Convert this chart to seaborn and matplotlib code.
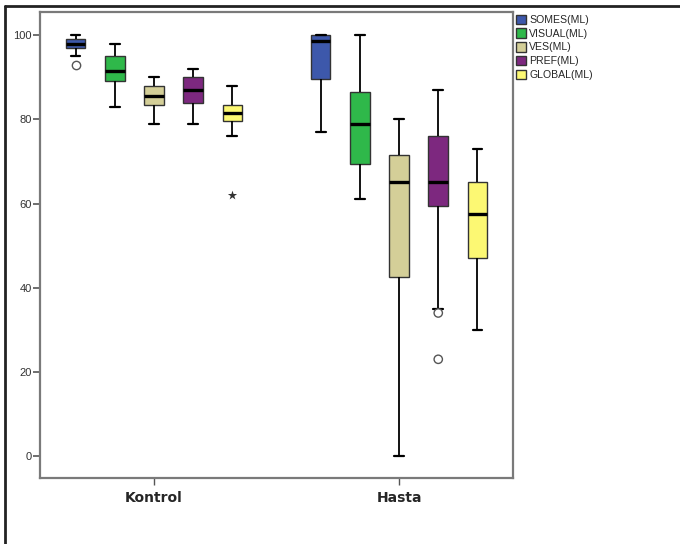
import pandas as pd
import numpy as np
import matplotlib
matplotlib.use("Agg")
import matplotlib.pyplot as plt
from matplotlib.lines import Line2D
import seaborn as sns

groups = ["Kontrol", "Hasta"]
tests = ["SOMES(ML)", "VISUAL(ML)", "VES(ML)", "PREF(ML)", "GLOBAL(ML)"]
colors = ["#3d58ab", "#2fb84a", "#d4cf98", "#7d287f", "#fcf873"]

# five-number summaries: whisker low, Q1, median, Q3, whisker high
kontrol_stats = [
    [95, 97, 98, 99, 100],
    [83, 89, 91.5, 95, 98],
    [79, 83.5, 85.5, 88, 90],
    [79, 84, 87, 90, 92],
    [76, 79.5, 81.5, 83.5, 88],
]
hasta_stats = [
    [77, 89.5, 98.5, 100, 100],
    [61, 69.5, 79, 86.5, 100],
    [0, 42.5, 65, 71.5, 80],
    [35, 59.5, 65, 76, 87],
    [30, 47, 57.5, 65, 73],
]

# outliers (circles) and extreme values (stars)
outlier_group = ["Kontrol", "Hasta", "Hasta"]
outlier_test = ["SOMES(ML)", "PREF(ML)", "PREF(ML)"]
outlier_value = [93, 34, 23]
extreme_group = ["Kontrol"]
extreme_test = ["GLOBAL(ML)"]
extreme_value = [62]

rows = []
for grp, stats in zip(groups, [kontrol_stats, hasta_stats]):
    for test, five in zip(tests, stats):
        for v in five:
            rows.append((grp, test, v))
df = pd.DataFrame(rows, columns=["group", "test", "value"])
out_df = pd.DataFrame({"group": outlier_group, "test": outlier_test, "value": outlier_value})
ext_df = pd.DataFrame({"group": extreme_group, "test": extreme_test, "value": extreme_value})

sns.set_style("white")
plt.rcParams["font.family"] = ["Liberation Sans", "DejaVu Sans"]

fig = plt.figure(figsize=(6.8, 5.44), dpi=100)
ax = fig.add_axes([40 / 680, 1 - 478 / 544, 473 / 680, 466 / 544])

sns.boxplot(data=df, x="group", y="value", hue="test", order=groups,
            hue_order=tests, palette=colors, saturation=1, width=0.8, gap=0.5,
            whis=(0, 100), showfliers=False, linecolor="#333333", linewidth=1,
            medianprops={"color": "black", "linewidth": 2.4},
            whiskerprops={"color": "black", "linewidth": 1.3},
            capprops={"color": "black", "linewidth": 1.6},
            ax=ax)

sns.stripplot(data=out_df, x="group", y="value", hue="test", order=groups,
              hue_order=tests, palette=["white"] * 5, dodge=True, jitter=False,
              size=6, linewidth=1, edgecolor="#555555", legend=False, ax=ax)
sns.stripplot(data=ext_df, x="group", y="value", hue="test", order=groups,
              hue_order=tests, palette=["#333333"] * 5, dodge=True, jitter=False,
              marker="*", size=7, linewidth=0, legend=False, ax=ax)

ax.set_xlim(-0.465, 1.465)
ax.set_ylim(-5.2, 105.5)
ax.set_yticks([0, 20, 40, 60, 80, 100])
ax.set_xlabel("")
ax.set_ylabel("")
for s in ax.spines.values():
    s.set_visible(True)
    s.set_color("#7a7a7a")
    s.set_linewidth(1.6)
ax.tick_params(axis="y", length=5, width=1.2, color="#555555", labelsize=8,
               labelcolor="#333333", pad=1, left=True)
ax.tick_params(axis="x", length=5, width=1, color="#555555", pad=4, bottom=True)
for lbl in ax.get_xticklabels():
    lbl.set_fontfamily("DejaVu Sans")
    lbl.set_fontweight("bold")
    lbl.set_fontsize(10)

sns.move_legend(ax, "upper left", bbox_to_anchor=(1.0, 1.0), frameon=False,
                title=None, fontsize=7.6, handlelength=1.0, handleheight=1.0,
                handletextpad=0.3, labelspacing=0.32, borderpad=0.15,
                borderaxespad=0.1)
for h in ax.get_legend().get_patches():
    h.set_edgecolor("#333333")

# outer frame of the picture
fig.add_artist(Line2D([5 / 680, 5 / 680], [0, 1 - 6 / 544], color="#222222", lw=2))
fig.add_artist(Line2D([5 / 680, 1], [1 - 6 / 544, 1 - 6 / 544], color="#222222", lw=2))

fig.savefig("out.png", dpi=100)
